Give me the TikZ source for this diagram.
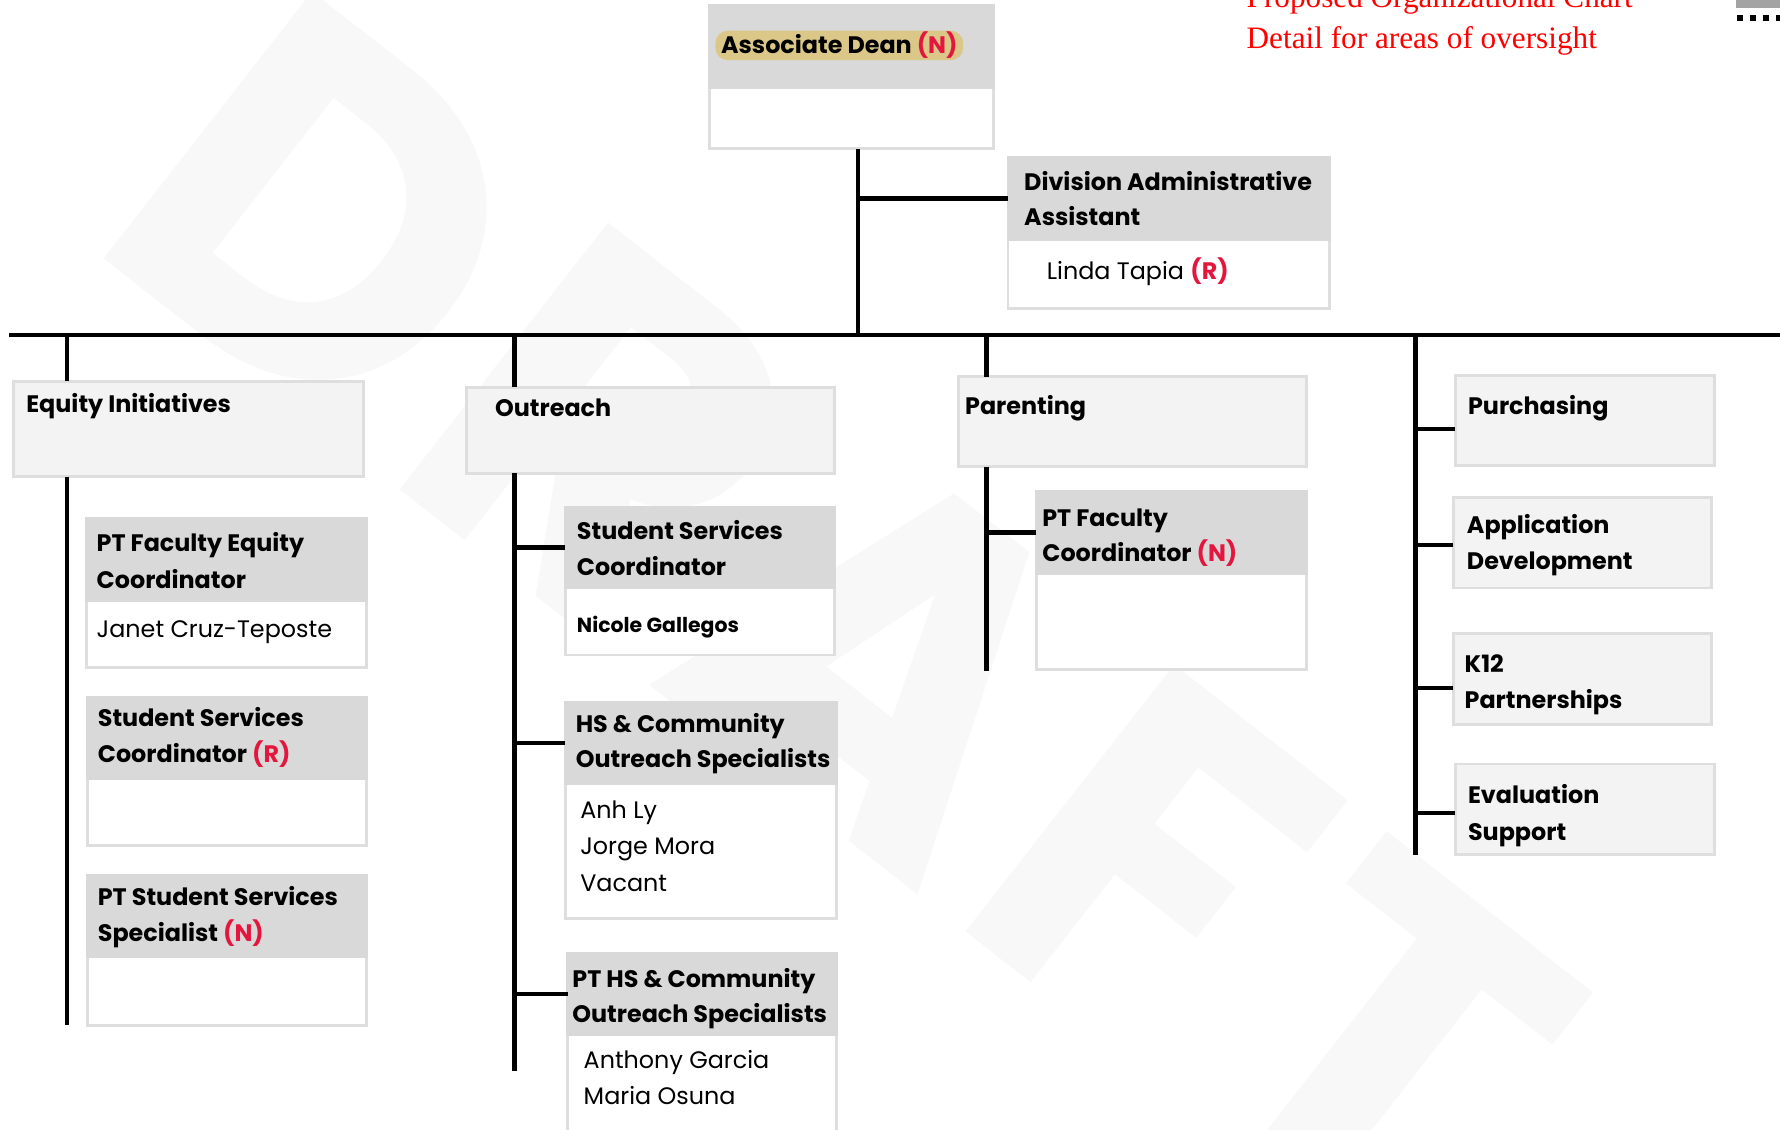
\documentclass[tikz,border=0pt]{standalone}
\usepackage{fontspec}
\setmainfont{Poppins}
\newfontfamily\titlefont{Liberation Serif}
\newfontfamily\wmfont{Poppins}[LetterSpace=5]
\usetikzlibrary{calc}
\definecolor{hdrgray}{HTML}{D9D9D9}
\definecolor{pfill}{HTML}{F4F3F4}
\definecolor{bordgray}{HTML}{DEDEDE}
\definecolor{tagred}{HTML}{E4163E}
\definecolor{tanc}{HTML}{DBC888}
\definecolor{wmgray}{HTML}{F8F8F8}
\definecolor{cornergray}{HTML}{A3A3A3}
\newcommand{\rd}[1]{\textcolor{tagred}{\bfseries #1}}
\newcommand{\hdrbox}[6]{%
  \node[box, minimum width=#4pt, minimum height=#5pt] (#1) at (#2,#3) {};
  \node[hbar, minimum width=#4pt, minimum height=#6pt] (#1h) at (#1.north west) {};}
\begin{document}
\begin{tikzpicture}[x=1pt,y=-1pt,
  box/.style={draw=bordgray, line width=2.5pt, fill=white, inner sep=0pt, outer sep=0pt, anchor=north west},
  pbox/.style={box, fill=pfill},
  hbar/.style={draw=hdrgray, line width=2.5pt, fill=hdrgray, inner sep=0pt, outer sep=0pt, anchor=north west},
  ttl/.style={anchor=base west, inner sep=0pt, font=\bfseries\fontsize{21}{25}\selectfont},
  nm/.style={anchor=base west, inner sep=0pt, font=\fontsize{21}{25}\selectfont},
  conn/.style={line width=4pt, black},
  ttext/.style={anchor=base west, inner sep=0pt, text=red, font=\titlefont\fontsize{27.5}{30}\selectfont},
]
\path[fill=white, use as bounding box] (0,0) rectangle (1568,995.4);

% watermark
\node[rotate=-38, anchor=base west, inner sep=0pt, text=wmgray,
      font=\wmfont\bfseries\fontsize{425}{425}\selectfont] (wmark) at (71,212) {DRAFT};

% title
\node[ttext] (title1) at (1098,7) {Proposed Organizational Chart};
\node[ttext] (title2) at (1098,43) {Detail for areas of oversight};
\fill[cornergray] (1529,0) rectangle (1568,7);
\coordinate (dotA) at (1530,16);
\coordinate (dotB) at (1568,16);
\draw[line width=5pt, dash pattern=on 5pt off 6.5pt] (dotA) -- (dotB);

% boxes
\hdrbox{dean}{625}{5}{250}{126}{72}
\hdrbox{div}{888}{139}{283}{133}{72}
\node[pbox, minimum width=308pt, minimum height=84pt] (eq) at (12,336) {};
\hdrbox{ca}{76}{457}{247}{131}{72}
\hdrbox{cb}{77}{614}{246}{131}{72}
\hdrbox{cc}{77}{771}{246}{132}{72}
\node[pbox, minimum width=324pt, minimum height=76pt] (out) at (411,341) {};
\hdrbox{oa}{498}{447}{237}{130}{71}
\hdrbox{ob}{498}{619}{239}{190}{71}
\hdrbox{oc}{500}{840}{237}{175}{71}
\node[pbox, minimum width=307pt, minimum height=79pt] (par) at (844,332) {};
\hdrbox{pa}{913}{433}{238}{157}{72}
\node[pbox, minimum width=228pt, minimum height=79pt] (ra) at (1282,331) {};
\node[pbox, minimum width=228pt, minimum height=80pt] (rb) at (1280,438) {};
\node[pbox, minimum width=228pt, minimum height=80pt] (rc) at (1280,558) {};
\node[pbox, minimum width=228pt, minimum height=80pt] (rd) at (1282,673) {};

% connectors
\coordinate (mL) at (8,295);
\coordinate (mR) at (1568,295);
\draw[conn] (mL) -- (mR);
\coordinate (dx) at ([xshift=6pt]dean.south);
\draw[conn] (dx) -- (dx |- mL);
\draw[conn] (divh.west) -- (divh.west -| dx);

\coordinate (ex) at (59,295);
\coordinate (eEnd) at (59,903);
\draw[conn] (ex) -- (ex |- eq.north);
\draw[conn] (ex |- eq.south) -- (eEnd);

\coordinate (ox) at (453,295);
\coordinate (oEnd) at (453,943);
\draw[conn] (ox) -- (ox |- out.north);
\draw[conn] (ox |- out.south) -- (oEnd);
\foreach \n in {oah,obh,och} \draw[conn] (\n.west) -- (\n.west -| ox);

\coordinate (px) at (869,295);
\coordinate (pEnd) at (869,591);
\draw[conn] (px) -- (px |- par.north);
\draw[conn] (px |- par.south) -- (pEnd);
\draw[conn] (pah.west) -- (pah.west -| px);

\coordinate (rx) at (1247,295);
\coordinate (rEnd) at (1247,753);
\draw[conn] (rx) -- (rEnd);
\coordinate (ba) at ([yshift=-7.5pt]ra.west);
\coordinate (bb) at ([yshift=-2pt]rb.west);
\coordinate (bc) at ([yshift=-8pt]rc.west);
\coordinate (bd) at ([yshift=-3pt]rd.west);
\foreach \n in {ba,bb,bc,bd} \draw[conn] (\n) -- (\n -| rx);

% texts
\node[anchor=west, inner xsep=5pt, inner ysep=0pt, fill=tanc, rounded corners=11pt,
      minimum height=26pt, font=\bfseries\fontsize{21}{25}\selectfont] (tdean) at (630,40) {Associate Dean \rd{(N)}};
\node[ttl] (tdiv1) at (902,168) {Division Administrative};
\node[ttl] (tdiv2) at (902,199) {Assistant};
\node[nm] (tdiv3) at (922,246) {Linda Tapia \rd{(R)}};

\node[ttl] (teq) at (23,363) {Equity Initiatives};
\node[ttl] (tca1) at (85,486) {PT Faculty Equity};
\node[ttl] (tca2) at (85,518) {Coordinator};
\node[nm] (tca3) at (85,562) {Janet Cruz-Teposte};
\node[ttl] (tcb1) at (86,640) {Student Services};
\node[ttl] (tcb2) at (86,672) {Coordinator \rd{(R)}};
\node[ttl] (tcc1) at (86,798) {PT Student Services};
\node[ttl] (tcc2) at (86,829) {Specialist \rd{(N)}};

\node[ttl] (tout) at (436,367) {Outreach};
\node[ttl] (toa1) at (508,475) {Student Services};
\node[ttl] (toa2) at (508,507) {Coordinator};
\node[anchor=base west, inner sep=0pt, font=\bfseries\fontsize{18}{22}\selectfont] (toa3) at (508,557) {Nicole Gallegos};
\node[ttl] (tob1) at (507,645) {HS \& Community};
\node[ttl] (tob2) at (507,676) {Outreach Specialists};
\node[nm] (tob3) at (511,721) {Anh Ly};
\node[nm] (tob4) at (511,753) {Jorge Mora};
\node[nm] (tob5) at (511,785) {Vacant};
\node[ttl] (toc1) at (504,870) {PT HS \& Community};
\node[ttl] (toc2) at (504,901) {Outreach Specialists};
\node[nm] (toc3) at (514,941) {Anthony Garcia};
\node[nm] (toc4) at (514,973) {Maria Osuna};

\node[ttl] (tpar) at (850,365) {Parenting};
\node[ttl] (tpa1) at (918,464) {PT Faculty};
\node[ttl] (tpa2) at (918,495) {Coordinator \rd{(N)}};

\node[ttl] (tra) at (1293,365) {Purchasing};
\node[ttl] (trb1) at (1292,470) {Application};
\node[ttl] (trb2) at (1292,502) {Development};
\node[ttl] (trc1) at (1290,592) {K12};
\node[ttl] (trc2) at (1290,624) {Partnerships};
\node[ttl] (trd1) at (1293,708) {Evaluation};
\node[ttl] (trd2) at (1293,740) {Support};
\end{tikzpicture}
\end{document}
